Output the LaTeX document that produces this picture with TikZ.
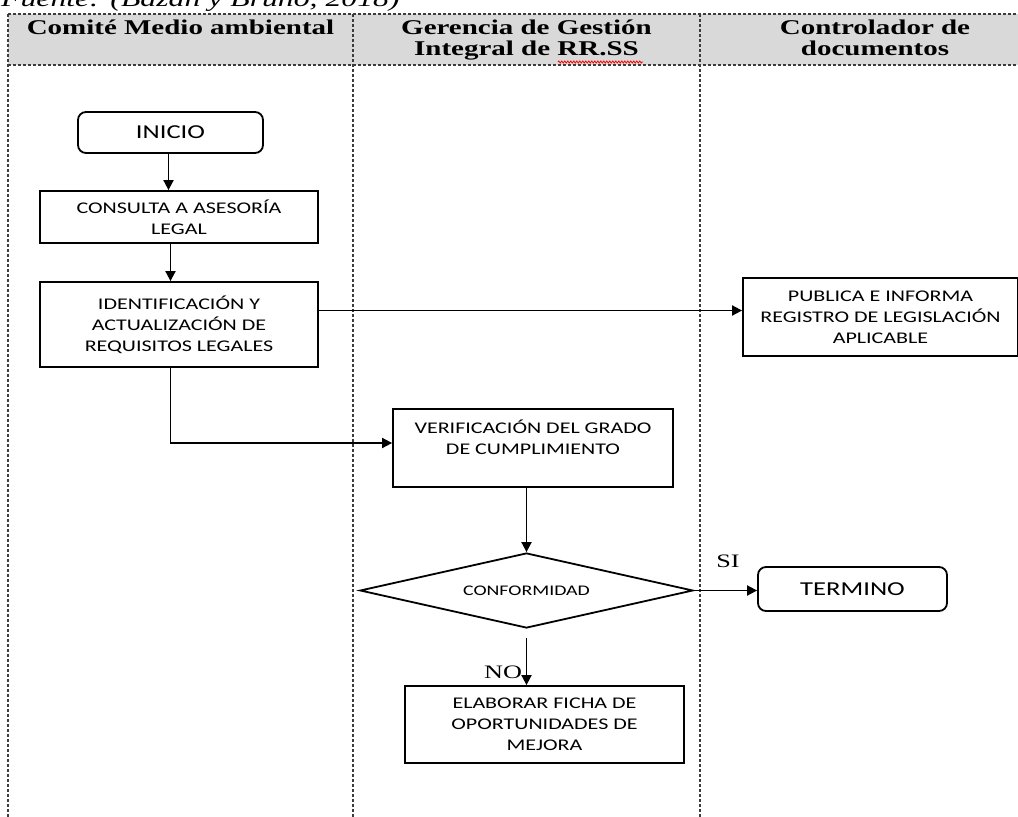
\documentclass[tikz,border=0pt]{standalone}
\usepackage{fontspec}
\usepackage{xcolor}
\usepackage{tikz}
\usetikzlibrary{arrows.meta, positioning, shapes.geometric, decorations.pathmorphing}
\newfontfamily\boxfont[FakeStretch=1.35]{Carlito}
\newfontfamily\headfont[FakeStretch=1.38]{Liberation Serif}
\definecolor{hdrgray}{HTML}{D9D9D9}
\definecolor{laneline}{HTML}{3C3C3C}

\begin{document}
\begin{tikzpicture}[
  x=1pt, y=-1pt,
  lane/.style={draw=laneline, line width=1.3pt, dash pattern=on 3pt off 2pt},
  procbox/.style={rectangle, draw, line width=1.8pt, inner sep=0pt, align=center,
    font=\boxfont\fontsize{16.3}{21}\selectfont},
  termbox/.style={rectangle, rounded corners=8pt, draw, line width=1.8pt, inner sep=0pt,
    font=\boxfont\fontsize{19.7}{24}\selectfont},
  decbox/.style={diamond, draw, line width=1.8pt, inner sep=0pt, shape aspect=4.4,
    font=\boxfont\fontsize{14.7}{18}\selectfont},
  hdrtext/.style={align=center, inner sep=0pt, font=\headfont\bfseries\fontsize{21}{21}\selectfont},
  lbl/.style={inner sep=0pt, font=\headfont\fontsize{19}{19}\selectfont},
  flow/.style={line width=1.8pt, -{Triangle[length=10pt, width=10pt]}}
]
\path[use as bounding box] (0,0) rectangle (1018,817);
\clip (0,0) rectangle (1018,817);

% lanes and header
\fill[hdrgray] (8,14) rectangle (1018,65);
\draw[lane] (8,14) -- (1018,14);
\draw[lane] (8,65) -- (1018,65);
\foreach \lx in {8,353,700}
  \draw[lane] (\lx,14) -- (\lx,817);

\node[anchor=base west, inner sep=0pt, font=\headfont\itshape\fontsize{23}{23}\selectfont]
  (fuente) at (1,6) {Fuente: (Bazán y Bruno, 2018)};
\node[hdrtext, anchor=base] (hdrcomite) at (180.5,34) {Comité Medio ambiental};
\node[hdrtext, anchor=base] (hdrgerencia) at (526.5,55) {Gerencia de Gestión\\Integral de RR.SS};
\node[hdrtext, anchor=base] (hdrcontrol) at (875,55) {Controlador de\\documentos};
\draw[red, line width=0.8pt, decorate, decoration={zigzag, segment length=3pt, amplitude=1pt}]
  (558,62) -- (643,62);

% flow nodes
\node[termbox, minimum width=185pt, minimum height=41pt] (inicio) at (170.5,132.5) {INICIO};
\node[procbox, minimum width=278pt, minimum height=52pt] (consulta) at (179,217)
  {CONSULTA A ASESORÍA\\LEGAL};
\node[procbox, minimum width=278pt, minimum height=85pt] (ident) at (179,324.5)
  {IDENTIFICACIÓN Y\\ACTUALIZACIÓN DE\\REQUISITOS LEGALES};
\node[procbox, minimum width=275pt, minimum height=78pt] (publica) at (880.5,317)
  {PUBLICA E INFORMA\\REGISTRO DE LEGISLACIÓN\\APLICABLE};
\node[procbox, minimum width=280pt, minimum height=78pt] (verif) at (533,448)
  {VERIFICACIÓN DEL GRADO\\DE CUMPLIMIENTO\\\mbox{}};
\node[decbox, minimum width=333pt, minimum height=75pt] (conf) at (526.5,590.5) {CONFORMIDAD};
\node[termbox, minimum width=189pt, minimum height=44pt] (termino) at (852.5,589) {TERMINO};
\node[procbox, minimum width=279pt, minimum height=77pt] (elab) at (544.5,724.5)
  {ELABORAR FICHA DE\\OPORTUNIDADES DE\\MEJORA};

\node[lbl] (si) at (728,561) {SI};
\node[lbl] (no) at (503,672) {NO};

% connectors
\draw[flow] ([xshift=-2pt]inicio.south) -- ([xshift=-2pt]inicio.south |- consulta.north);
\draw[flow] (consulta.south -| inicio.south) -- (ident.north -| inicio.south);
\draw[flow] ([yshift=14pt]ident.east) -- ([yshift=14pt]ident.east -| publica.west);
\draw[flow] (ident.south -| inicio.south) |- ([yshift=5pt]verif.west);
\draw[flow] (conf.north |- verif.south) -- (conf.north);
\draw[flow] (conf.east) -- (conf.east -| termino.west);
\draw[flow] ([yshift=-9pt]conf.south) -- (elab.north -| conf.south);
\end{tikzpicture}
\end{document}
